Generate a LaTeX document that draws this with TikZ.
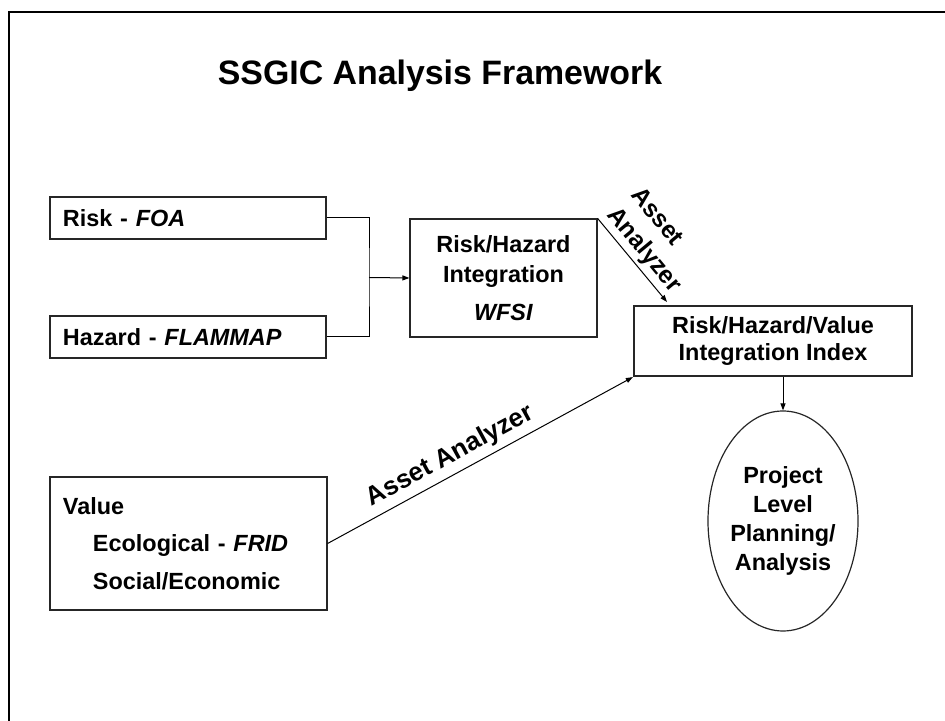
\documentclass[tikz,border=0pt]{standalone}
\usepackage{fontspec}
\setmainfont{Liberation Sans}
\usetikzlibrary{arrows.meta,shapes.geometric}
\tikzset{
  arr/.style={-{Triangle[length=7bp,width=5bp]}, line width=1bp},
  box/.style={draw=black!85, line width=1.2bp, inner sep=0pt},
  boxfont/.style={font=\fontsize{23.5}{30}\selectfont\bfseries},
  lblfont/.style={font=\fontsize{24.5}{31}\selectfont\bfseries}
}

\begin{document}
\begin{tikzpicture}[x=1bp, y=1bp]
  \useasboundingbox (0,0) rectangle (945,721);
  % slide frame (open at right and bottom)
  \draw[line width=2bp] (9,0) -- (9,709) -- (945,709);
  \node[font=\fontsize{34}{40}\selectfont\bfseries, anchor=base] (title) at (440,636) {SSGIC Analysis Framework};
  % input boxes
  \node[box, boxfont, text width=250bp, inner xsep=13bp, minimum height=42bp, align=left] (risk) at (188,503) {Risk - \textit{FOA}};
  \node[box, boxfont, text width=250bp, inner xsep=13bp, minimum height=42bp, align=left] (hazard) at (188,384) {Hazard - \textit{FLAMMAP}};
  \node[box, boxfont, text width=251bp, inner xsep=13bp, minimum height=133bp, align=left] (value) at (188.5,177.5)
    {Value\\[7.5bp]\hspace*{30bp}Ecological - \textit{FRID}\\[7.5bp]\hspace*{30bp}Social/Economic};
  % integration steps
  \node[box, boxfont, minimum width=187bp, minimum height=118bp, align=center] (rhi) at (503.5,443)
    {Risk/Hazard\\Integration\\[8bp]\textit{WFSI}};
  \node[box, boxfont, line width=2.2bp, minimum width=278bp, minimum height=70bp, align=center] (rhv) at (773,380)
    {Risk/Hazard/Value\\[-2bp]Integration Index};
  \node[box, boxfont, ellipse, font=\fontsize{23.5}{29}\selectfont\bfseries, minimum width=150bp, minimum height=220bp, align=center] (plan) at (783,200)
    {Project\\Level\\Planning/\\Analysis};
  % connectors
  \coordinate (join) at (369,443.5);
  \coordinate (tipA) at (667,419);
  \draw[line width=1bp] (risk.east) -| (join) |- (hazard.east);
  \draw[arr] (join) -- (rhi.west);
  \draw[arr] (rhi.north east) -- node[sloped, above, lblfont, align=left] (assetA) {Asset\\Analyzer} (tipA);
  \draw[arr] (value.east) -- node[sloped, above=2bp, pos=0.43, font=\fontsize{26}{30}\selectfont\bfseries] (assetB) {Asset Analyzer} (rhv.south west);
  \draw[arr] (rhv.south -| plan.north) -- (plan.north);
\end{tikzpicture}
\end{document}
